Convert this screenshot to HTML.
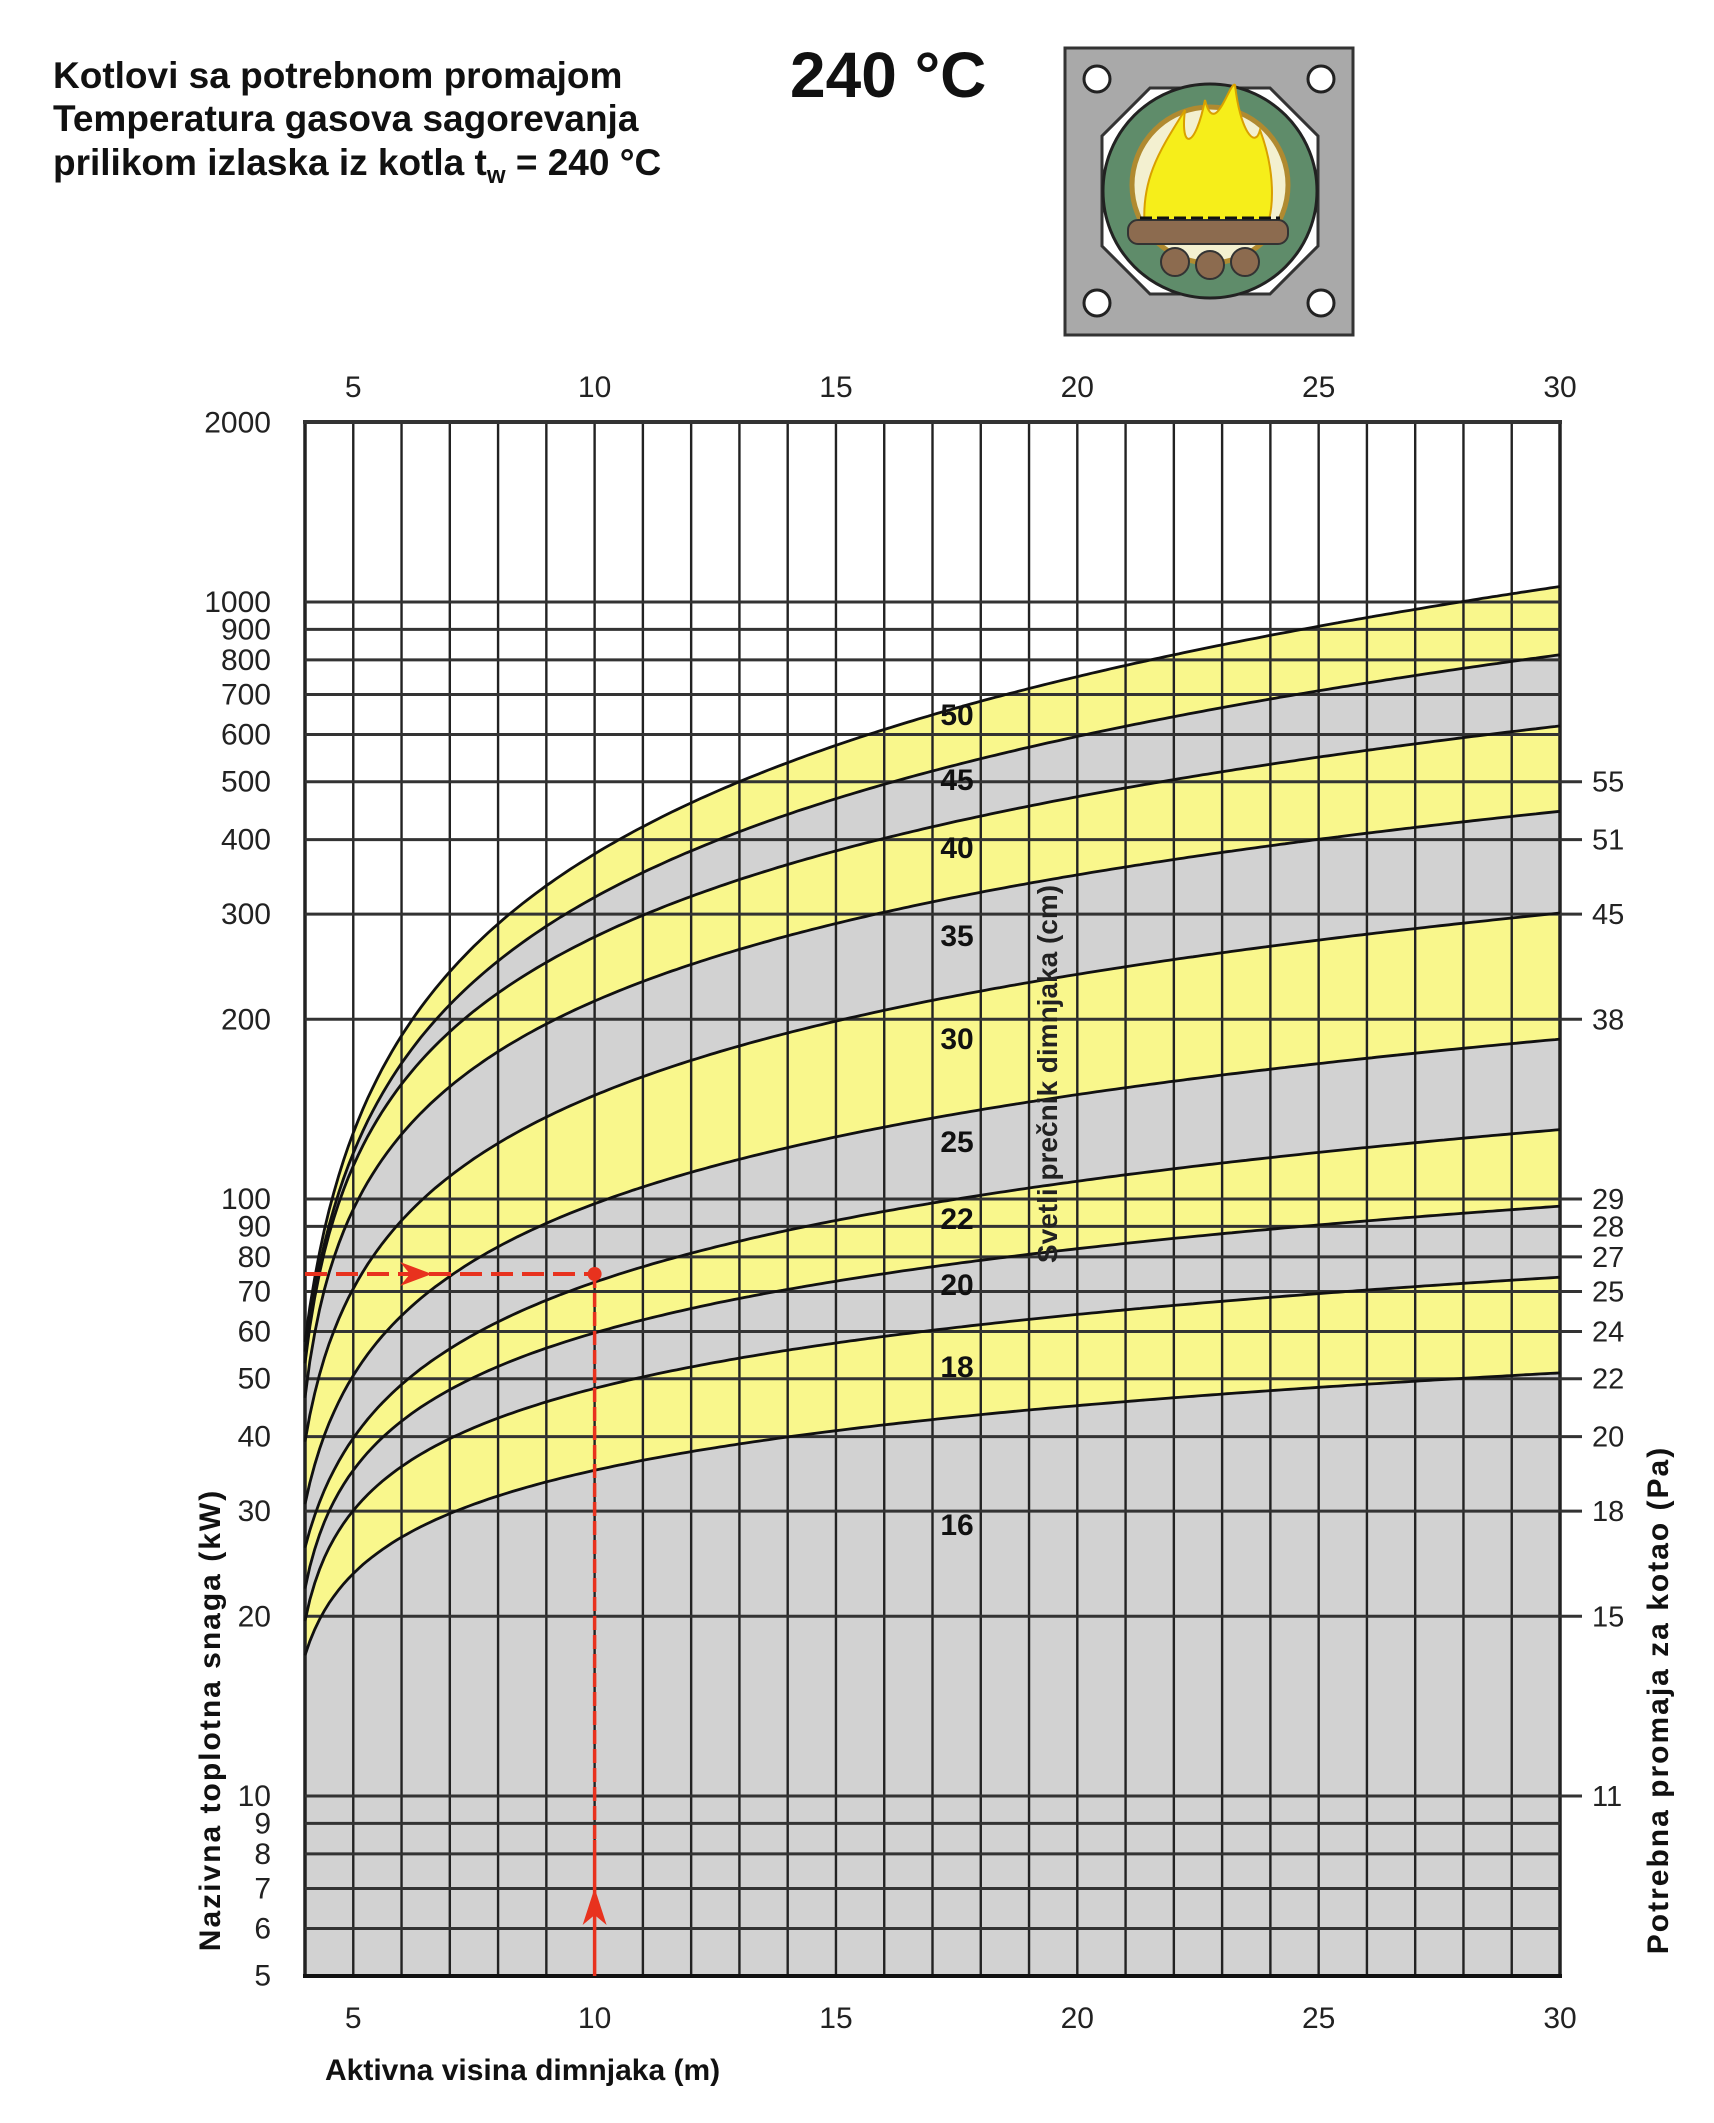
<!DOCTYPE html>
<html><head><meta charset="utf-8"><style>
html,body{margin:0;padding:0;background:#fff;}
svg{display:block;}
text{font-family:"Liberation Sans",sans-serif;}
</style></head><body>
<svg id="s" width="1714" height="2123" viewBox="0 0 1714 2123" xmlns="http://www.w3.org/2000/svg">
<rect width="1714" height="2123" fill="#fff"/>
<text x="53" y="88" font-size="37" font-weight="bold" fill="#111">Kotlovi sa potrebnom promajom</text>
<text x="53" y="131" font-size="37" font-weight="bold" fill="#111">Temperatura gasova sagorevanja</text>
<text x="53" y="175" font-size="37" font-weight="bold" fill="#111">prilikom izlaska iz kotla t<tspan font-size="24" dy="8">w</tspan><tspan dy="-8"> = 240 °C</tspan></text>
<text x="790" y="97" font-size="64" font-weight="bold" fill="#111">240 °C</text>
<g>
<rect x="1065" y="48" width="288" height="287" fill="#a9a9a9" stroke="#333" stroke-width="3"/>
<circle cx="1097" cy="79" r="13" fill="#fff" stroke="#222" stroke-width="3"/>
<circle cx="1321" cy="79" r="13" fill="#fff" stroke="#222" stroke-width="3"/>
<circle cx="1097" cy="303" r="13" fill="#fff" stroke="#222" stroke-width="3"/>
<circle cx="1321" cy="303" r="13" fill="#fff" stroke="#222" stroke-width="3"/>
<polygon points="1150,88 1270,88 1318,136 1318,246 1270,294 1150,294 1102,246 1102,136" fill="#fff" stroke="#333" stroke-width="3"/>
<circle cx="1210" cy="191" r="107" fill="#5f8c6a" stroke="#222" stroke-width="3"/>
<circle cx="1210" cy="185" r="78" fill="#f3f0d0" stroke="#b08a30" stroke-width="5"/>
<path d="M1145,230 C1140,180 1160,150 1185,110 C1180,150 1195,150 1205,100 C1215,140 1230,80 1235,85 C1240,130 1255,150 1260,130 C1275,170 1275,210 1265,230 Z" fill="#f6ee1a" stroke="#d9a000" stroke-width="2"/>
<rect x="1128" y="220" width="160" height="24" rx="10" fill="#8c6b4f" stroke="#333" stroke-width="2"/>
<circle cx="1175" cy="262" r="14" fill="#8c6b4f" stroke="#333" stroke-width="2"/>
<circle cx="1210" cy="265" r="14" fill="#8c6b4f" stroke="#333" stroke-width="2"/>
<circle cx="1245" cy="262" r="14" fill="#8c6b4f" stroke="#333" stroke-width="2"/>
<line x1="1140" y1="218" x2="1280" y2="218" stroke="#111" stroke-width="3" stroke-dasharray="12 5"/>
</g>
<g id="plot"></g>
</svg>
<script>
(function(){
var NS="http://www.w3.org/2000/svg";
var g=document.getElementById("plot");
var L=305,R=1560,T=422,B=1976;
function X(x){return L+(x-4)*(R-L)/26;}
function Y(p){return 602+(3-Math.log10(p))*597;}
function el(t,a,txt){var e=document.createElementNS(NS,t);for(var k in a)e.setAttribute(k,a[k]);if(txt!==undefined)e.textContent=txt;g.appendChild(e);return e;}
var xs=[4,5,6,8,10,13.2,17.86,30];
var W=[10,1,1,1,10,1,2,25];
var C=[
[1340,1196,1076,938,841,762,683,590],
[1350,1210,1099,972,886,809,743,658],
[1362,1225,1121,998,923,866,810,729],
[1397,1253,1167,1061,989,935,887,814],
[1440,1345,1259,1167,1081,1027,984,916],
[1502,1449,1363,1282,1185,1139,1098,1043],
[1546,1489,1403,1340,1274,1219,1183,1132],
[1587,1535,1443,1386,1320,1285,1252,1209],
[1620,1575,1489,1426,1374,1351,1323,1280],
[1654,1621,1563,1506,1460,1434,1410,1375]];
function fit(c0){
 var best=null;
 for(var c=-3.9;c<=40;c+=0.02){
  var n=0,sx=0,sy=0,sxx=0,sxy=0;
  for(var i=0;i<xs.length;i++){var w=W[i];var u=Math.log(xs[i]+c);n+=w;sx+=w*u;sy+=w*c0[i];sxx+=w*u*u;sxy+=w*u*c0[i];}
  var b=(n*sxy-sx*sy)/(n*sxx-sx*sx),a=(sy-b*sx)/n;
  var e=0;for(var i=0;i<xs.length;i++){var d=a+b*Math.log(xs[i]+c)-c0[i];e+=W[i]*d*d;}
  if(!best||e<best.e)best={e:e,a:a,b:b,c:c};
 }
 return best;
}
var F=C.map(fit);
function pts(f){var p=[];for(var x=4;x<=30.001;x+=0.1){p.push([X(x),f.a+f.b*Math.log(x+f.c)]);}return p;}
function path(f){return "M"+pts(f).map(function(q){return q[0].toFixed(1)+","+q[1].toFixed(1);}).join(" L");}
function rpath(f){return "L"+pts(f).reverse().map(function(q){return q[0].toFixed(1)+","+q[1].toFixed(1);}).join(" L");}
el("rect",{x:L,y:T,width:R-L,height:B-T,fill:"#fff"});
el("path",{d:path(F[0])+" L"+R+","+B+" L"+L+","+B+" Z",fill:"#d2d2d2"});
for(var i=0;i<10;i+=2){el("path",{d:path(F[i])+" "+rpath(F[i+1])+" Z",fill:"#f9f78c"});}
for(var x=4;x<=30;x++){el("line",{x1:X(x),y1:T,x2:X(x),y2:B,stroke:"#222","stroke-width":(x==4||x==30)?3.5:2.4});}
var hv=[1000,900,800,700,600,500,400,300,200,100,90,80,70,60,50,40,30,20,10,9,8,7,6];
var right={500:"55",400:"51",300:"45",200:"38",100:"29",90:"28",80:"27",70:"25",60:"24",50:"22",40:"20",30:"18",20:"15",10:"11"};
hv.forEach(function(v){
 var y=Y(v);var ext=right[v]?1582:R;
 el("line",{x1:L,y1:y,x2:ext,y2:y,stroke:"#333","stroke-width":3});
 if(right[v])el("text",{x:1592,y:y+10,"font-size":29,fill:"#222"},right[v]);
});
el("line",{x1:L-2,y1:T,x2:R+2,y2:T,stroke:"#333","stroke-width":4});
el("line",{x1:L-2,y1:B,x2:R+2,y2:B,stroke:"#111","stroke-width":4});
F.forEach(function(f){el("path",{d:path(f),fill:"none",stroke:"#111","stroke-width":2.8});});
var lv=[2000,1000,900,800,700,600,500,400,300,200,100,90,80,70,60,50,40,30,20,10,9,8,7,6,5];
lv.forEach(function(v){el("text",{x:271,y:Y(v)+10,"font-size":30,"text-anchor":"end",fill:"#222"},String(v));});
[5,10,15,20,25,30].forEach(function(v){
 el("text",{x:X(v),y:397,"font-size":30,"text-anchor":"middle",fill:"#222"},String(v));
 el("text",{x:X(v),y:2028,"font-size":30,"text-anchor":"middle",fill:"#222"},String(v));
});
var bl=[["50",714],["45",779],["40",847],["35",935],["30",1038],["25",1141],["22",1218],["20",1284],["18",1366],["16",1524]];
bl.forEach(function(b){el("text",{x:957,y:b[1]+11,"font-size":30,"font-weight":"bold","text-anchor":"middle",fill:"#111"},b[0]);});
el("text",{x:0,y:0,"font-size":28,"font-weight":"bold","text-anchor":"middle",fill:"#222",transform:"translate(1057,1074) rotate(-90)"},"Svetli prečnik dimnjaka (cm)");
el("text",{x:0,y:0,"font-size":30,"font-weight":"bold","text-anchor":"middle",fill:"#111","letter-spacing":"2",transform:"translate(220,1720) rotate(-90)"},"Nazivna toplotna snaga (kW)");
el("text",{x:0,y:0,"font-size":30,"font-weight":"bold","text-anchor":"middle",fill:"#111","letter-spacing":"2",transform:"translate(1668,1700) rotate(-90)"},"Potrebna promaja za kotao (Pa)");
el("text",{x:325,y:2080,"font-size":30,"font-weight":"bold",fill:"#111"},"Aktivna visina dimnjaka (m)");
var dy=1274,dx=X(10);
el("line",{x1:L,y1:dy,x2:dx,y2:dy,stroke:"#e8321e","stroke-width":4,"stroke-dasharray":"22 9"});
el("polygon",{points:"400,1262 432,1274 400,1286 410,1274",fill:"#e8321e"});
el("circle",{cx:dx,cy:dy,r:7,fill:"#e8321e"});
el("line",{x1:dx,y1:dy,x2:dx,y2:1840,stroke:"#e8321e","stroke-width":3.5,"stroke-dasharray":"14 5"});
el("line",{x1:dx,y1:1840,x2:dx,y2:B,stroke:"#e8321e","stroke-width":3.5});
el("polygon",{points:(dx-12)+",1925 "+dx+",1888 "+(dx+12)+",1925 "+dx+",1915",fill:"#e8321e"});
})();
</script>
</body></html>
